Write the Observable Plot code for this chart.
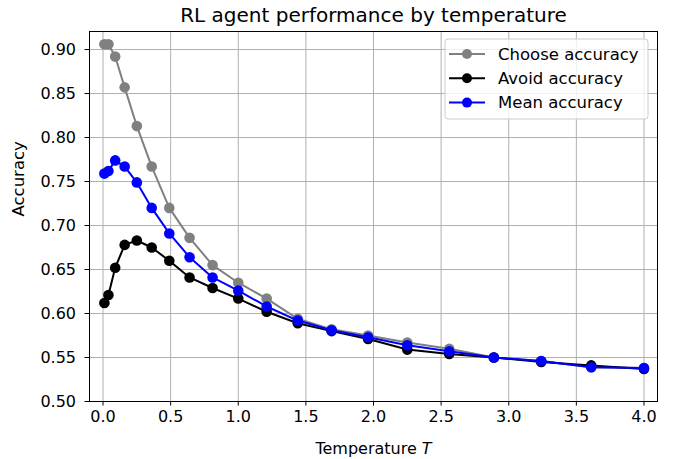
<!DOCTYPE html>
<html>
<head>
<meta charset="utf-8">
<script src="https://cdn.jsdelivr.net/npm/d3@7"></script>
<script src="https://cdn.jsdelivr.net/npm/@observablehq/plot@0.6"></script>
<style>
  html, body { margin: 0; padding: 0; background: #fff; }
  #chart { width: 678px; height: 459px; }
  svg { font-family: "DejaVu Sans", sans-serif; }
</style>
</head>
<body>
<div id="chart"></div>
<script>
const temperature = [0.01, 0.04, 0.09, 0.16, 0.25, 0.36, 0.49, 0.64, 0.81, 1.00, 1.21, 1.44, 1.69, 1.96, 2.25, 2.56, 2.89, 3.24, 3.61, 4.00];
const chooseAcc = [0.906, 0.906, 0.892, 0.857, 0.813, 0.767, 0.720, 0.686, 0.655, 0.635, 0.617, 0.594, 0.582, 0.575, 0.567, 0.560, 0.550, 0.546, 0.539, 0.538];
const avoidAcc  = [0.612, 0.621, 0.652, 0.678, 0.683, 0.675, 0.660, 0.641, 0.629, 0.617, 0.602, 0.589, 0.580, 0.571, 0.559, 0.554, 0.550, 0.545, 0.541, 0.537];
const meanAcc   = [0.759, 0.762, 0.774, 0.767, 0.749, 0.720, 0.691, 0.664, 0.641, 0.626, 0.608, 0.592, 0.581, 0.573, 0.564, 0.557, 0.550, 0.546, 0.539, 0.538];
const xTicks = [0, 0.5, 1.0, 1.5, 2.0, 2.5, 3.0, 3.5, 4.0];
const yTicks = [0.50, 0.55, 0.60, 0.65, 0.70, 0.75, 0.80, 0.85, 0.90];
const seriesNames = ["Choose accuracy", "Avoid accuracy", "Mean accuracy"];
const seriesColors = ["#808080", "#000000", "#0000ff"];
const seriesValues = [chooseAcc, avoidAcc, meanAcc];

const data = [];
seriesNames.forEach((name, i) => {
  temperature.forEach((t, j) => data.push({series: name, T: t, acc: seriesValues[i][j]}));
});

const lineMarks = [];
seriesNames.forEach((name, i) => {
  const d = data.filter(r => r.series === name);
  lineMarks.push(Plot.line(d, {x: "T", y: "acc", stroke: seriesColors[i], strokeWidth: 2}));
  lineMarks.push(Plot.dot(d, {x: "T", y: "acc", fill: seriesColors[i], r: 5.3, stroke: "none"}));
});

const plot = Plot.plot({
  width: 678,
  height: 459,
  marginLeft: 89,
  marginRight: 21,
  marginTop: 31,
  marginBottom: 58,
  style: {fontFamily: "DejaVu Sans, sans-serif", fontSize: "16px", color: "#000", background: "#fff"},
  x: {domain: [-0.1, 4.1], ticks: xTicks, tickFormat: d3.format(".1f"), label: null},
  y: {domain: [0.5, 0.9205], ticks: yTicks, tickFormat: d3.format(".2f"), label: null},
  marks: [
    Plot.gridX(xTicks, {stroke: "#b0b0b0", strokeOpacity: 1, strokeWidth: 1}),
    Plot.gridY(yTicks, {stroke: "#b0b0b0", strokeOpacity: 1, strokeWidth: 1}),
    ...lineMarks,
    Plot.frame({stroke: "#000", strokeWidth: 1}),
    Plot.axisX(xTicks, {tickSize: 4.5, tickPadding: 5, fontSize: 16, label: null, tickFormat: d3.format(".1f")}),
    Plot.axisY(yTicks, {tickSize: 4.5, tickPadding: 9, fontSize: 16, label: null, tickFormat: d3.format(".2f")}),
    Plot.text(["RL agent performance by temperature"], {frameAnchor: "top", dy: -16, fontSize: 20, fill: "#000", lineAnchor: "middle"}),
    Plot.text(["Accuracy"], {frameAnchor: "left", dx: -71, rotate: -90, fontSize: 16.5, fill: "#000", lineAnchor: "middle"}),
    Plot.text(["Temperature T"], {frameAnchor: "bottom", dy: 47, fontSize: 16, fill: "#000", lineAnchor: "middle"})
  ]
});

document.getElementById("chart").appendChild(plot);

// italic T in x label
const svg = d3.select(plot);
svg.selectAll("text").each(function() {
  const el = d3.select(this);
  if (el.text() === "Temperature T") {
    const tNode = el.select("tspan").empty() ? el : el.select("tspan");
    tNode.text("Temperature ");
    tNode.append("tspan").attr("font-style", "italic").text("T");
  }
});

// legend (matplotlib style), positioned relative to frame upper-right
const frameRight = 678 - 21, frameTop = 31;
const lg = svg.append("g").attr("font-family", "DejaVu Sans, sans-serif").attr("font-size", 16.5).attr("text-anchor", "start");
const boxW = 203, boxH = 80;
const bx = frameRight - 9 - boxW, by = frameTop + 8;
lg.append("rect").attr("x", bx).attr("y", by).attr("width", boxW).attr("height", boxH)
  .attr("rx", 3).attr("fill", "#fff").attr("fill-opacity", 0.8).attr("stroke", "#cccccc").attr("stroke-width", 1);
seriesNames.forEach((name, i) => {
  const cy = by + 15 + i * 24.3;
  lg.append("line").attr("x1", bx + 4).attr("x2", bx + 40).attr("y1", cy).attr("y2", cy)
    .attr("stroke", seriesColors[i]).attr("stroke-width", 2);
  lg.append("circle").attr("cx", bx + 22).attr("cy", cy).attr("r", 5).attr("fill", seriesColors[i]);
  lg.append("text").attr("x", bx + 53).attr("y", cy).attr("dy", "0.35em").attr("text-anchor", "start")
    .attr("fill", "#000").text(name);
});
</script>
</body>
</html>
